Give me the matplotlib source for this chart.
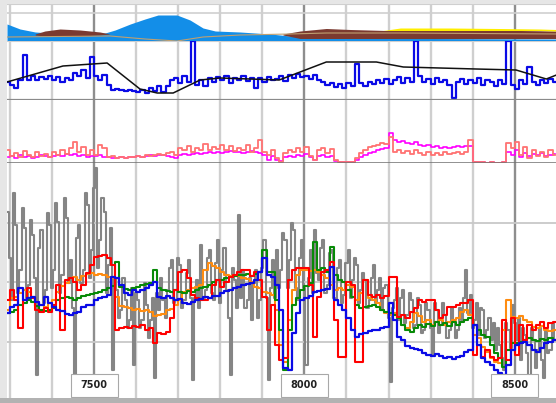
import numpy as np
import matplotlib.pyplot as plt
from matplotlib.patches import Rectangle

# depth samples (every 10 ft) for the log curves, 5 ft for the gray curve
depth = np.arange(7295, 8605, 10)
depth_fine = np.arange(7295, 8600, 5)

# --- track 1: filled areas ---
blue_fill_depth = [7293, 7324, 7360, 7395, 7467, 7526, 7550, 7586, 7621, 7652,
                   7697, 7728, 7759, 7788, 7847, 7919, 7966, 8014, 8599]
blue_fill = [17, 12, 9, 8, 7, 8, 11, 17, 22, 26, 26, 21, 13, 10, 9, 7, 5, 3, 2]

brown_l_depth = [7360, 7383, 7419, 7467, 7514, 7538]
brown_l_low = [6, 5, 5, 5, 6, 7]
brown_l_top = [7, 10, 12, 11, 9, 7]

brown_r_depth = [7949, 7990, 8052, 8109, 8194, 8347, 8513, 8599]
brown_r_low = [6, 2.5, 2.5, 2.5, 2.5, 2.5, 2.5, 2.5]
brown_r_top = [7, 10, 12.5, 11.5, 10.5, 10.5, 10.5, 10]

yellow_depth = [8187, 8228, 8347, 8465, 8560, 8599]
yellow_low = [10.5, 10.5, 10.5, 10.5, 10.5, 10]
yellow_top = [10.5, 13, 13, 12.5, 12, 11.5]

thin_depth = [7293, 7538, 7621, 7697, 7759, 7847, 7966, 8052, 8228, 8599]
thin_line = [4, 5, 2, 0, 4, 6, 7, 8, 8, 7]

# --- track 2: blue curve + black trend ---
rop = [18, 15, 12, 20, 45, 20, 24, 20, 23, 21, 24, 20, 23, 18, 22, 20, 27, 24, 30, 22,
       43, 24, 20, 25, 15, 10, 11, 10, 9, 10, 9, 8, 10, 7, 12, 9, 14, 8, 14, 20,
       22, 17, 24, 18, 59, 15, 20, 14, 22, 18, 23, 20, 24, 17, 22, 20, 24, 19, 22, 12,
       22, 18, 23, 20, 21, 24, 19, 25, 22, 26, 23, 24, 21, 25, 20, 18, 15, 17, 13, 16,
       12, 17, 14, 36, 17, 14, 18, 16, 20, 17, 21, 16, 20, 23, 17, 22, 18, 59, 24, 18,
       21, 16, 22, 18, 20, 15, 2, 18, 21, 16, 20, 17, 22, 15, 20, 18, 14, 20, 16, 59,
       15, 11, 20, 16, 33, 18, 15, 20, 17, 21, 18]
trend_depth = [7293, 7426, 7531, 7609, 7650, 7688, 7752, 7800, 7940, 8052, 8171, 8235,
               8408, 8503, 8575, 8599]
trend = [18, 34, 37, 11, 7, 7, 20, 22, 20, 38, 38, 33, 31, 30, 21, 25]

# --- track 3: pink / magenta ---
pink = [13, 7, 10, 6, 12, 8, 6, 11, 7, 9, 6, 11, 8, 13, 9, 15, 21, 11, 16, 8,
        13, 8, 18, 15, 6, 7, 5, 6, 5, 6, 6, 7, 6, 8, 7, 8, 9, 8, 10, 11,
        8, 15, 13, 17, 11, 15, 13, 19, 13, 16, 14, 18, 13, 17, 12, 15, 13, 18, 11, 15,
        23, 11, 8, 13, 5, 1, 10, 13, 11, 15, 11, 16, 7, 3, 13, 15, 10, 14, 3, 1,
        1, 1, 1, 5, 10, 13, 16, 17, 18, 20, 19, 26, 11, 13, 10, 12, 9, 13, 10, 8,
        11, 8, 10, 8, 11, 9, 10, 11, 9, 11, 23, 1, 1, 1, 0, 1, 0, 0, 1, 20,
        15, 21, 8, 16, 5, 13, 7, 11, 6, 13, 8]
magenta = [6, 7, 5, 8, 6, 7, 5, 6, 8, 7, 6, 7, 8, 7, 9, 8, 9, 7, 8, 6, 7,
           7, 8, 6, 6, 5, 5, 6, 5, 6, 6, 7, 6, 7, 8, 7, 8, 8, 7, 6, 5,
           8, 9, 8, 9, 10, 9, 10, 11, 10, 11, 10, 11, 12, 11, 11, 10, 11, 12, 11, 10, 8, 3, 7,
           3, 2, 6, 7, 6, 8, 7, 9, 6, 3, 7, 8, 6, 7, 2, 1, 1, 1, 1, 3, 6, 8, 10, 11, 13, 14, 15,
           30, 23, 21, 22, 20, 19, 21, 18, 17, 18, 16, 17, 15, 16, 15, 16, 17, 16, 17, 17,
           1, 1, 1, 0, 1, 0, 0, 1,
           11, 8, 13, 6, 10, 7, 9, 8, 10, 7, 8, 9]

# --- track 4: five curves ---
gray = [186, 140, 98, 205, 173, 105, 128, 190, 170, 100, 113, 178, 163, 120, 23, 150, 168, 95, 108, 185,
        173, 110, 128, 195, 176, 105, 123, 200, 180, 115, 138, 90, 23, 160, 173, 115, 128, 205, 193, 120,
        148, 210, 230, 130, 158, 200, 186, 105, 133, 170, 28, 120, 108, 80, 88, 120, 98, 70, 78, 110,
        33, 105, 98, 70, 78, 115, 93, 60, 78, 100, 20, 105, 88, 120, 98, 80, 108, 130, 138, 95,
        98, 140, 133, 90, 98, 125, 138, 100, 18, 100, 118, 90, 153, 100, 108, 140, 148, 105, 98, 135,
        158, 95, 128, 150, 108, 80, 23, 130, 118, 90, 183, 100, 128, 90, 98, 120, 78, 115, 128, 80,
        98, 130, 158, 100, 18, 110, 138, 100, 148, 110, 128, 165, 158, 110, 138, 175, 168, 110, 98, 140,
        158, 110, 33, 120, 148, 105, 168, 125, 118, 150, 158, 105, 113, 145, 148, 100, 98, 130, 138, 95,
        103, 135, 148, 100, 118, 140, 133, 95, 108, 125, 118, 90, 98, 120, 133, 95, 108, 120, 88, 110,
        113, 80, 16, 90, 98, 110, 78, 100, 108, 75, 83, 105, 98, 70, 73, 100, 93, 65, 68, 95,
        88, 70, 43, 95, 88, 65, 73, 95, 83, 60, 68, 90, 78, 60, 68, 90, 78, 100, 128, 85,
        103, 70, 78, 95, 63, 90, 88, 60, 68, 80, 58, 75, 48, 70, 53, 40, 28, 75, 68, 50,
        93, 75, 58, 80, 38, 70, 63, 45, 8, 70, 58, 30, 48, 70, 38, 20, 68, 45, 48, 75, 58]
red = [98, 108, 98, 70, 98, 110, 100, 88, 86, 90, 86, 93, 113, 68, 118, 120, 116, 108, 113, 125,
       133, 141, 142, 143, 140, 133, 68, 70, 71, 70, 72, 71, 73, 68, 70, 55, 65, 64, 66, 80,
       108, 126, 128, 120, 103, 100, 98, 98, 100, 113, 118, 111, 116, 121, 123, 126, 128, 128, 122, 126,
       118, 101, 68, 93, 53, 38, 40, 118, 128, 130, 130, 130, 113, 61, 101, 126, 128, 136, 78, 41,
       41, 116, 113, 36, 36, 118, 103, 101, 103, 100, 102, 121, 121, 81, 83, 80, 86, 90, 98, 96,
       98, 98, 88, 80, 83, 91, 91, 93, 95, 95, 98, 43, 53, 41, 48, 41, 38, 40, 78, 38,
       80, 43, 73, 58, 73, 68, 73, 76, 70, 75, 76]
green = [85, 86, 88, 93, 95, 98, 96, 92, 88, 87, 88, 90, 98, 100, 101, 100, 98, 100, 102, 103,
         104, 105, 106, 108, 110, 112, 136, 111, 109, 108, 110, 111, 113, 114, 115, 128, 110, 108, 107, 106,
         108, 106, 105, 107, 106, 108, 110, 111, 113, 116, 118, 118, 120, 121, 122, 123, 123, 124, 122, 124,
         126, 148, 126, 126, 98, 68, 28, 68, 93, 100, 108, 112, 115, 156, 128, 130, 126, 151, 123, 118,
         116, 108, 101, 93, 90, 91, 92, 93, 91, 88, 86, 85, 83, 80, 73, 68, 66, 70, 73, 71,
         74, 72, 76, 73, 75, 72, 76, 73, 76, 78, 80, 73, 68, 63, 61, 53, 45, 40, 31, 48,
         55, 55, 56, 58, 60, 58, 57, 59, 58, 60, 58]
orange = [88, 100, 101, 105, 108, 106, 101, 96, 93, 91, 95, 98, 106, 112, 115, 120, 121, 118, 122, 124,
          125, 123, 124, 123, 121, 120, 101, 92, 91, 90, 88, 89, 87, 88, 86, 82, 83, 84, 88, 89,
          93, 98, 106, 108, 110, 111, 113, 128, 135, 132, 130, 126, 123, 122, 123, 122, 120, 119, 116, 111,
          110, 106, 105, 103, 88, 53, 36, 78, 108, 123, 128, 128, 127, 128, 126, 123, 120, 113, 108, 110,
          108, 113, 111, 98, 105, 118, 100, 98, 95, 88, 85, 83, 85, 80, 73, 70, 76, 85, 82, 76,
          78, 73, 76, 78, 73, 76, 78, 80, 86, 88, 83, 63, 60, 51, 46, 40, 36, 35, 68, 98,
          81, 80, 82, 78, 76, 71, 70, 72, 68, 67, 68]
blue = [85, 91, 93, 110, 98, 100, 101, 96, 93, 101, 95, 91, 88, 87, 84, 83, 85, 86, 91, 93,
        93, 98, 100, 101, 103, 121, 120, 113, 105, 103, 108, 106, 108, 110, 113, 116, 101, 100, 102, 100,
        98, 99, 95, 94, 96, 98, 99, 101, 100, 102, 102, 105, 107, 108, 110, 111, 113, 114, 115, 118,
        126, 140, 123, 121, 113, 88, 30, 28, 65, 85, 98, 100, 102, 106, 107, 108, 109, 131, 98, 93,
        88, 80, 68, 61, 64, 65, 67, 68, 68, 70, 71, 95, 78, 61, 58, 52, 50, 49, 48, 45,
        43, 42, 44, 42, 40, 41, 39, 41, 42, 46, 48, 73, 53, 40, 36, 33, 28, 25, 23, 33,
        48, 53, 55, 56, 53, 48, 46, 50, 55, 56, 58]

tick_depths = [7500, 8000, 8500]

W, H = 556, 403
fig = plt.figure(figsize=(W / 100, H / 100), dpi=100, facecolor='#e6e6e6')


def panel(top, bottom, ymax):
    ax = fig.add_axes([7 / W, 1 - bottom / H, (W - 7) / W, (bottom - top) / H])
    ax.set_xlim(7293, 8598)
    ax.set_ylim(0, ymax)
    ax.set_xticks([])
    ax.set_yticks([])
    ax.set_facecolor('white')
    for s in ax.spines.values():
        s.set_visible(False)
    for d in range(7300, 8600, 100):
        dark = d % 500 == 0
        ax.axvline(d, color='#8e8e8e' if dark else '#cfcfcf', lw=1.7, zorder=0)
    return ax


ax1 = panel(4, 41, 37)
ax2 = panel(41, 100, 59)
ax3 = panel(100, 163, 63)
ax4 = panel(163, 398, 235)

# horizontal frame / grid lines
ax1.axhline(37, color='#cfcfcf', lw=1.5, zorder=0)
ax1.axhline(28, color='#cfcfcf', lw=1.2, zorder=0)
ax2.axhline(59, color='#cfcfcf', lw=1.5, zorder=0)
ax2.axhline(0, color='#8a8a8a', lw=1.6, zorder=5)
ax3.axhline(0, color='#707070', lw=1.8, zorder=5)
for g in [56, 116, 175]:
    ax4.axhline(g, color='#c8c8c8', lw=1.3, zorder=0)

# track 1
ax1.fill_between(blue_fill_depth, 0, blue_fill, color='#138ee8', lw=0, zorder=2)
ax1.fill_between(brown_l_depth, brown_l_low, brown_l_top, color='#7b3a30', lw=0, zorder=3)
ax1.fill_between(brown_r_depth, brown_r_low, brown_r_top, color='#7b3a30', lw=0, zorder=3)
ax1.fill_between(yellow_depth, yellow_low, yellow_top, color='#ffee00', lw=0, zorder=3)
ax1.plot(thin_depth, thin_line, color='#c0a070', lw=0.8, zorder=4)

# track 2
ax2.plot(depth, rop, color='#0a0ae6', lw=1.6, drawstyle='steps-mid', zorder=2)
ax2.plot(trend_depth, trend, color='#111111', lw=1.1, zorder=3)

# track 3
ax3.plot(depth, magenta, color='#ff00ff', lw=1.2, drawstyle='steps-mid', zorder=2)
ax3.plot(depth, pink, color='#ff7272', lw=1.3, drawstyle='steps-mid', zorder=3)

# track 4
ax4.plot(depth_fine, gray, color='#858585', lw=1.5, drawstyle='steps-mid', zorder=2)
ax4.plot(depth, orange, color='#ff8c10', lw=1.5, drawstyle='steps-mid', zorder=3)
ax4.plot(depth, green, color='#078a07', lw=1.5, drawstyle='steps-mid', zorder=3)
ax4.plot(depth, red, color='#ff0000', lw=1.5, drawstyle='steps-mid', zorder=4)
ax4.plot(depth, blue, color='#0a0ae6', lw=1.6, drawstyle='steps-mid', zorder=5)

# boxed depth labels
tr = ax4.get_xaxis_transform()
for d in tick_depths:
    ax4.add_patch(Rectangle((d - 56, 0.006), 112, 0.096, transform=tr,
                            facecolor='white', edgecolor='#a8a8a8', lw=0.8, zorder=10))
    ax4.text(d, 0.054, str(d), transform=tr, ha='center', va='center',
             fontsize=7, fontweight='bold', color='#222222', zorder=11)

# bottom border strip
fig.patches.append(Rectangle((0, 0), 1, 5 / H, transform=fig.transFigure,
                             facecolor='#b2b2b2', edgecolor='none'))

fig.savefig('out.png', dpi=100, facecolor=fig.get_facecolor())
